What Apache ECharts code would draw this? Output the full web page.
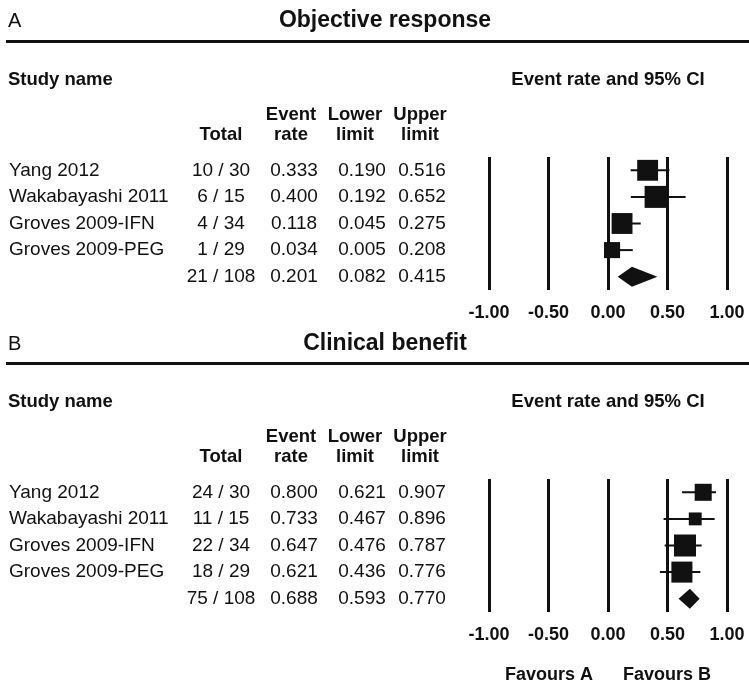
<!DOCTYPE html>
<html>
<head>
<meta charset="utf-8">
<script src="https://cdn.jsdelivr.net/npm/echarts@6/dist/echarts.min.js"></script>
<style>
  html, body { margin: 0; padding: 0; background: #fff; }
  #chart { width: 749px; height: 693px; }
</style>
</head>
<body>
<div id="chart"></div>
<script>
// study rows (last row is the pooled estimate)
const studies = ['Yang 2012', 'Wakabayashi 2011', 'Groves 2009-IFN', 'Groves 2009-PEG', '']
const totals = [30, 15, 34, 29, 108]

// A: objective response
const orEvents = [10, 6, 4, 1, 21]
const orRate = [0.333, 0.400, 0.118, 0.034, 0.201]
const orLower = [0.190, 0.192, 0.045, 0.005, 0.082]
const orUpper = [0.516, 0.652, 0.275, 0.208, 0.415]
const orWeight = [27, 30, 27, 16]

// B: clinical benefit
const cbEvents = [24, 11, 22, 18, 75]
const cbRate = [0.800, 0.733, 0.647, 0.621, 0.688]
const cbLower = [0.621, 0.467, 0.476, 0.436, 0.593]
const cbUpper = [0.907, 0.896, 0.787, 0.776, 0.770]
const cbWeight = [21, 12, 35, 32]

const xTicks = [-1, -0.5, 0, 0.5, 1]
const headerCols = [['', 'Total'], ['Event', 'rate'], ['Lower', 'limit'], ['Upper', 'limit']]

const FONT = '"Liberation Sans", Arial, sans-serif'
const INK = '#111'
const HEAD = 'bold 18.5px ' + FONT

const chart = echarts.init(document.getElementById('chart'), null, { renderer: 'canvas' })

const panels = [
  { letter: 'A', title: 'Objective response', dy: 0, titleY: 21, events: orEvents, rate: orRate, lower: orLower, upper: orUpper, weight: orWeight },
  { letter: 'B', title: 'Clinical benefit', dy: 322, titleY: 344, events: cbEvents, rate: cbRate, lower: cbLower, upper: cbUpper, weight: cbWeight }
]

const grids = []
const xAxes = []
const yAxes = []
const series = []
const graphic = []

function label(text, x, y, font, align) {
  return {
    type: 'text', x: x, y: y, silent: true,
    style: { text: text, font: font, fill: INK, align: align || 'left', verticalAlign: 'middle' }
  }
}

panels.forEach((p, k) => {
  const dy = p.dy
  grids.push({ left: 489, width: 238, top: 157 + dy, height: 133 })
  xAxes.push({
    gridIndex: k, type: 'value', min: xTicks[0], max: xTicks[xTicks.length - 1], interval: 0.5,
    axisLine: { show: false }, axisTick: { show: false },
    splitLine: { show: true, lineStyle: { color: INK, width: 3 } },
    axisLabel: { margin: 14, color: INK, fontSize: 18, fontWeight: 'bold', fontFamily: FONT, formatter: v => v.toFixed(2) }
  })
  yAxes.push({
    gridIndex: k, type: 'value', inverse: true, min: 0.5, max: studies.length + 0.5,
    show: false, splitLine: { show: false }
  })

  const nStudies = p.weight.length
  const maxW = Math.max.apply(null, p.weight)

  // table text, placed on the row positions of the y scale
  series.push({
    type: 'custom', xAxisIndex: k, yAxisIndex: k, silent: true, clip: false,
    data: studies.map((s, i) => [0, i + 1]),
    encode: { x: 0, y: 1 },
    renderItem: function (params, api) {
      const i = params.dataIndex
      const y = api.coord([0, api.value(1)])[1]
      const cell = (t, x, align) => ({
        type: 'text', x: x, y: y,
        style: { text: t, font: '19px ' + FONT, fill: INK, align: align, verticalAlign: 'middle' }
      })
      return {
        type: 'group',
        children: [
          cell(studies[i], 9, 'left'),
          cell(p.events[i] + ' / ' + totals[i], 221, 'center'),
          cell(p.rate[i].toFixed(3), 294, 'center'),
          cell(p.lower[i].toFixed(3), 362, 'center'),
          cell(p.upper[i].toFixed(3), 422, 'center')
        ]
      }
    }
  })

  // confidence interval whiskers
  series.push({
    type: 'custom', xAxisIndex: k, yAxisIndex: k, silent: true, clip: false,
    data: p.lower.slice(0, nStudies).map((lo, i) => [lo, p.upper[i], i + 1]),
    encode: { x: [0, 1], y: 2 },
    renderItem: function (params, api) {
      const a = api.coord([api.value(0), api.value(2)])
      const b = api.coord([api.value(1), api.value(2)])
      return {
        type: 'line',
        shape: { x1: a[0], y1: a[1], x2: b[0], y2: b[1] },
        style: { stroke: INK, lineWidth: 2 }
      }
    }
  })

  // study squares, size by weight
  series.push({
    type: 'scatter', xAxisIndex: k, yAxisIndex: k, silent: true,
    symbol: 'rect',
    data: p.rate.slice(0, nStudies).map((r, i) => [r, i + 1, p.weight[i]]),
    symbolSize: v => 22 * Math.sqrt(v[2] / maxW),
    itemStyle: { color: INK, opacity: 1 }
  })

  // pooled diamond
  series.push({
    type: 'custom', xAxisIndex: k, yAxisIndex: k, silent: true, clip: false,
    data: [[p.lower[nStudies], p.rate[nStudies], p.upper[nStudies], nStudies + 1]],
    encode: { x: [0, 1, 2], y: 3 },
    renderItem: function (params, api) {
      const row = api.value(3)
      const l = api.coord([api.value(0), row])
      const m = api.coord([api.value(1), row])
      const u = api.coord([api.value(2), row])
      const h = 10
      return {
        type: 'polygon',
        shape: { points: [[l[0], l[1]], [m[0], m[1] - h], [u[0], u[1]], [m[0], m[1] + h]] },
        style: { fill: INK }
      }
    }
  })

  // headings
  graphic.push(
    label(p.letter, 8, p.titleY, '20px ' + FONT),
    label(p.title, 385, p.titleY, 'bold 23px ' + FONT, 'center'),
    { type: 'rect', silent: true, shape: { x: 6, y: 40 + dy, width: 743, height: 3 }, style: { fill: INK } },
    label('Study name', 8, 80 + dy, HEAD),
    label('Event rate and 95% CI', 608, 80 + dy, HEAD, 'center')
  )
  const headX = [221, 291, 355, 420]
  headerCols.forEach((h, j) => {
    graphic.push(
      label(h[0], headX[j], 115 + dy, HEAD, 'center'),
      label(h[1], headX[j], 135 + dy, HEAD, 'center')
    )
  })
})

graphic.push(
  label('Favours A', 549, 675, 'bold 18px ' + FONT, 'center'),
  label('Favours B', 667, 675, 'bold 18px ' + FONT, 'center')
)

chart.setOption({
  animation: false,
  backgroundColor: '#fff',
  grid: grids,
  xAxis: xAxes,
  yAxis: yAxes,
  series: series,
  graphic: graphic
})
</script>
</body>
</html>
